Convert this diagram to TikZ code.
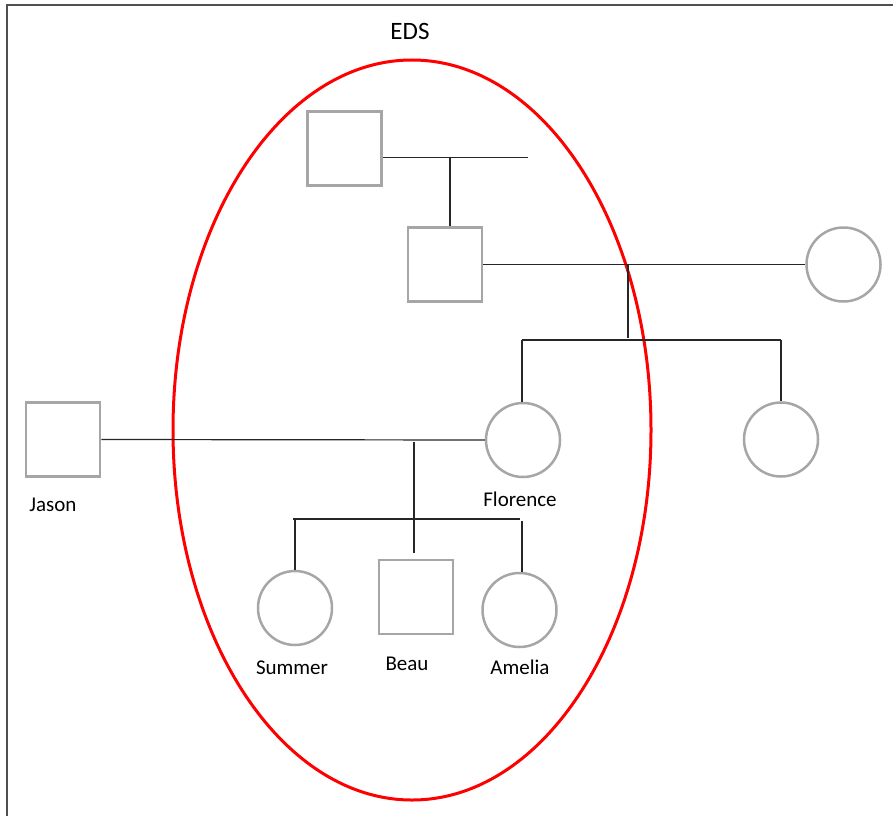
\documentclass[tikz,border=0pt]{standalone}
\usepackage{fontspec}
\setmainfont{Carlito}
\usepackage{tikz}
\usetikzlibrary{calc,shapes.geometric}
\definecolor{shapegray}{HTML}{A6A6A6}
\definecolor{framegray}{HTML}{505050}
\tikzset{
	male/.style={rectangle, draw=shapegray, line width=2.5pt, minimum size=74pt, inner sep=0pt},
	female/.style={circle, draw=shapegray, line width=2.5pt, minimum size=74pt, inner sep=0pt},
	nametag/.style={font=\fontsize{21}{24}\selectfont, inner sep=0pt},
	tie/.style={line width=1.2pt, color=black!85},
	edsring/.style={line width=3pt, color=red}
}

\begin{document}
\begin{tikzpicture}[x=1pt, y=-1pt]
			%%%%% START %%%%%
			
			\useasboundingbox (0, 0) rectangle (893, 816);
			\draw[line width=2pt, color=framegray] (7, 816) -- (7, 5) -- (893, 5);
			
			\node[nametag, font=\fontsize{25}{28}\selectfont] (edslabel) at (410, 31) {EDS};
			\draw[edsring] (412, 430) ellipse [x radius=239pt, y radius=370pt];
			
			\node[male] (grandpa) at (344.5, 148.5) {};
			\node[male] (dad) at (445, 264.5) {};
			\node[female] (mum) at (843.5, 264.5) {};
			\node[female] (flo) at (523, 440) {};
			\node[female] (aunt) at (781, 439.5) {};
			\node[male] (jason) at (63, 439.5) {};
			\node[female] (summer) at (295, 608) {};
			\node[male] (beau) at (416, 597) {};
			\node[female] (amelia) at (519.5, 610) {};
			
			\node[nametag] (jasonlabel) at (53, 505) {Jason};
			\node[nametag] (flolabel) at (520, 499) {Florence};
			\node[nametag] (summerlabel) at (292, 668) {Summer};
			\node[nametag] (beaulabel) at (407, 664) {Beau};
			\node[nametag] (amelialabel) at (520, 667) {Amelia};
			
			\coordinate (gpend) at (528, 157.5);
			\coordinate (gpdrop) at (450, 157.5);
			\coordinate (momid) at (628, 264.5);
			\coordinate (sibsl) at (522, 340);
			\coordinate (sibsr) at (781, 340);
			\coordinate (kidsdrop) at (414, 442);
			\coordinate (kidsl) at (293, 519);
			\coordinate (kidsr) at (520, 519);
			
			\draw[tie] (grandpa.east |- gpend) -- (gpend);
			\draw[tie] (gpdrop) -- (gpdrop |- dad.north);
			
			\draw[tie] (dad.east) -- (mum.west);
			\draw[tie] (momid) -- ($(momid)+(0, 73)$);
			\draw[tie] (sibsl) -- (sibsr);
			\draw[tie] (sibsl) -- (sibsl |- flo.north);
			\draw[tie] (sibsr) -- (aunt.north);
			
			\draw[tie] (jason.east) -- (flo.west);
			\draw[tie] (kidsdrop) -- ($(beau.north)+(-2, -6)$);
			\draw[tie] (kidsl) -- (kidsr);
			\draw[tie] ($(kidsl)+(2, 0)$) -- (summer.north);
			\draw[tie] ($(kidsr)+(2, 2)$) -- ($(amelia.north)+(2.5, 0)$);
			
			%%%%% END %%%%%
		\end{tikzpicture}
\end{document}
